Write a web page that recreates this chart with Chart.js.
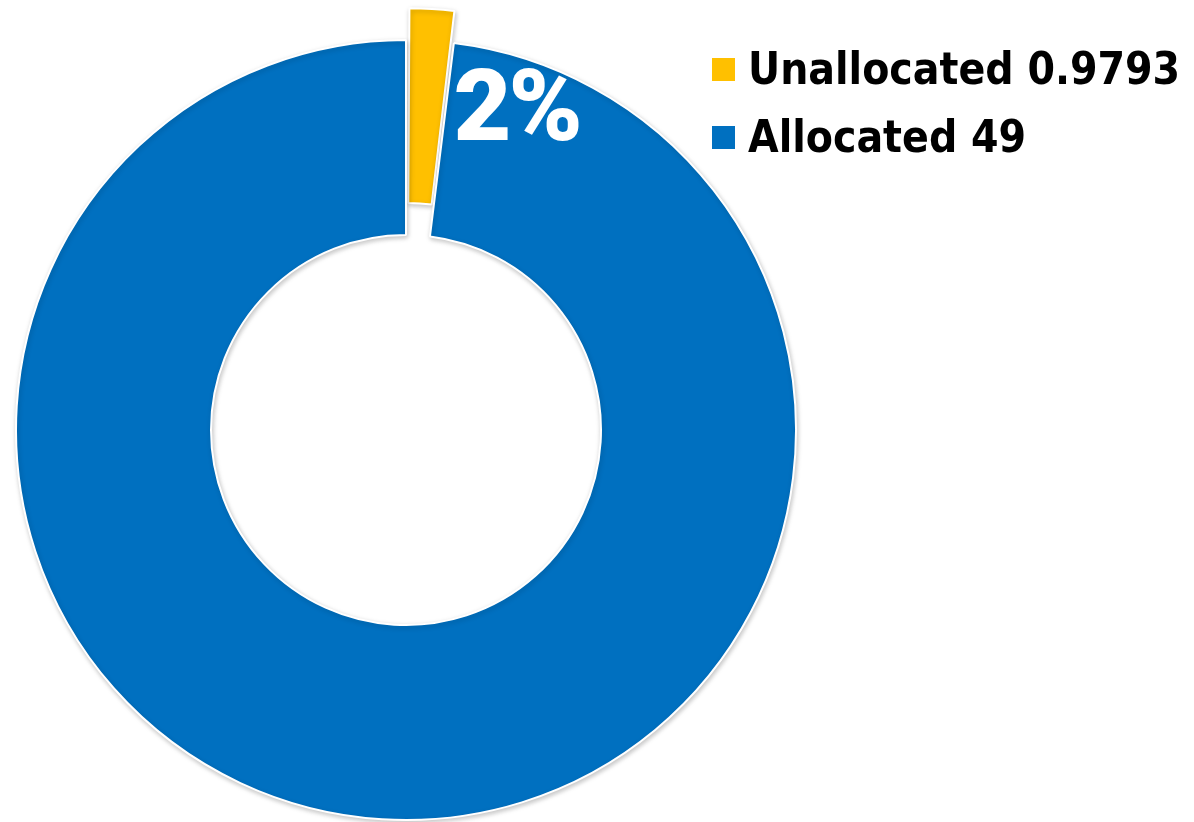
<!DOCTYPE html>
<html>
<head>
<meta charset="utf-8">
<script src="https://cdn.jsdelivr.net/npm/chart.js@4.4.1/dist/chart.umd.min.js"></script>
<style>
  html, body { margin: 0; padding: 0; background: #fff; }
  #wrap { position: relative; width: 1194px; height: 822px; overflow: hidden; }
  #legend { position: absolute; left: 712px; top: 0; font-family: "DejaVu Sans", sans-serif; font-stretch: condensed; font-weight: bold; font-size: 44px; color: #000; }
  .row { position: absolute; left: 0; height: 50px; line-height: 50px; display: flex; align-items: center; white-space: nowrap; }
  .box { width: 23px; height: 23px; margin-right: 13px; flex: none; }
</style>
</head>
<body>
<div id="wrap">
  <canvas id="myDonut" width="1194" height="822"></canvas>
  <div id="legend"></div>
</div>
<script>
// values
const labels = ['Unallocated', 'Allocated'];
const values = [0.9793, 49];
const colors = ['#FFC000', '#0070C0'];
const offsets = [68, 0]; // unallocated slice is pulled out (chart.js moves it by offset/2)

// legend rows (html, right side)
const legendEl = document.getElementById('legend');
const rowTops = [44, 112];
labels.forEach((lab, i) => {
  const row = document.createElement('div');
  row.className = 'row';
  row.style.top = rowTops[i] + 'px';
  const box = document.createElement('span');
  box.className = 'box';
  box.style.background = colors[i];
  const txt = document.createElement('span');
  txt.textContent = lab + ' ' + values[i];
  row.appendChild(box);
  row.appendChild(txt);
  legendEl.appendChild(row);
});

// soft drop shadow under the ring
const shadowPlugin = {
  id: 'ringShadow',
  beforeDatasetsDraw(chart) {
    const ctx = chart.ctx;
    ctx.save();
    ctx.shadowColor = 'rgba(0,0,0,0.22)';
    ctx.shadowBlur = 5;
    ctx.shadowOffsetX = 1;
    ctx.shadowOffsetY = 2;
  },
  afterDatasetsDraw(chart) {
    chart.ctx.restore();
  }
};

// "2%" label for the small slice
const pctPlugin = {
  id: 'pctLabel',
  afterDatasetsDraw(chart) {
    const arc = chart.getDatasetMeta(0).data[0];
    const total = values.reduce((a, b) => a + b, 0);
    const pct = Math.round(values[0] / total * 100) + '%';
    const angle = arc.endAngle + 0.242;
    const r = arc.outerRadius - 80;
    const ctx = chart.ctx;
    ctx.save();
    ctx.font = '900 100px Roboto, "DejaVu Sans", sans-serif';
    if ('letterSpacing' in ctx) ctx.letterSpacing = '-3px';
    ctx.fillStyle = '#fff';
    ctx.textAlign = 'center';
    ctx.textBaseline = 'alphabetic';
    ctx.fillText(pct, arc.x + Math.cos(angle) * r, arc.y + Math.sin(angle) * r);
    ctx.restore();
  }
};

const ctx = document.getElementById('myDonut').getContext('2d');
const myDonut = new Chart(ctx, {
  type: 'doughnut',
  data: {
    labels: labels,
    datasets: [{
      data: values,
      backgroundColor: colors,
      borderColor: '#ffffff',
      borderWidth: 2,
      offset: offsets,
      hoverOffset: 0
    }]
  },
  options: {
    responsive: false,
    animation: false,
    radius: 390,
    cutout: '50%',
    layout: {
      padding: { left: 0, right: 382, top: 38, bottom: 0 }
    },
    plugins: {
      legend: { display: false },
      tooltip: { enabled: false }
    }
  },
  plugins: [shadowPlugin, pctPlugin]
});
</script>
</body>
</html>
